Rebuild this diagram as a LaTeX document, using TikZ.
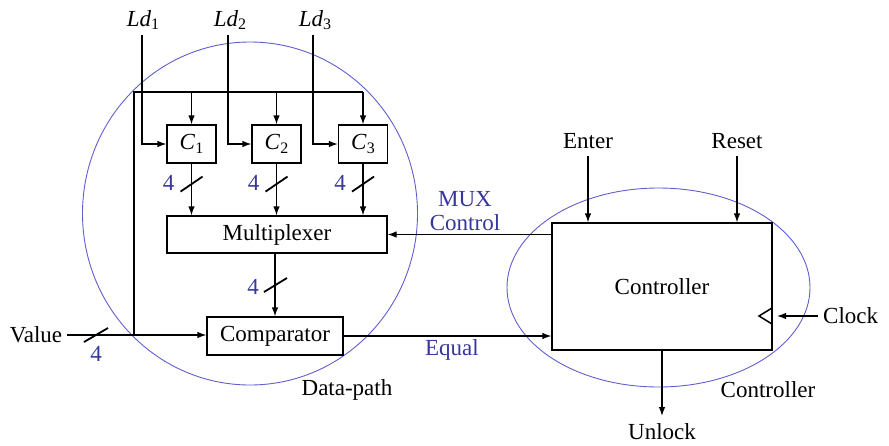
\documentclass[tikz,border=0pt]{standalone}
\usepackage{fontspec}
\setmainfont{Liberation Serif}
\usetikzlibrary{arrows.meta,calc}
\definecolor{ringblue}{RGB}{95,95,205}
\definecolor{lblblue}{RGB}{55,55,155}
\newcommand{\subs}[1]{\raisebox{-0.35ex}{\fontsize{16}{16}\selectfont #1}}
\begin{document}
\begin{tikzpicture}[x=1pt,y=-1pt,
  font=\fontsize{23}{27}\selectfont,
  wire/.style={line width=1.2pt,black},
  arr/.style={wire,-{Latex[length=9pt,width=6.5pt]}},
  box/.style={draw,line width=1.2pt,inner sep=0pt},
  ring/.style={draw=ringblue,line width=0.9pt},
  blbl/.style={text=lblblue,inner sep=0pt},
  lbl/.style={inner sep=0pt},
  slashmark/.style={line width=1.8pt}]
\useasboundingbox (0,0) rectangle (889,445);
% rings
\draw[ring] (250,213.5) ellipse [x radius=167.5pt, y radius=171.5pt];
\draw[ring] (658.5,287.5) ellipse [x radius=151.5pt, y radius=99.5pt];
% boxes
\node[box,minimum width=49pt,minimum height=38pt] (c1) at (191.5,144) {\textit{C}\subs{1}};
\node[box,minimum width=49pt,minimum height=38pt] (c2) at (276.5,144) {\textit{C}\subs{2}};
\node[box,minimum width=49pt,minimum height=38pt] (c3) at (363,144) {\textit{C}\subs{3}};
\node[box,minimum width=220pt,minimum height=37pt] (mux) at (277,234.5) {Multiplexer};
\node[box,minimum width=136pt,minimum height=38pt] (cmp) at (275,336) {Comparator};
\node[box,minimum width=220pt,minimum height=127pt] (ctrl) at (662,286.5) {};
\node[lbl] (ctrltxt) at (662,287) {Controller};
% labels
\node[lbl] (ld1) at (143,20) {\textit{Ld}\subs{1}};
\node[lbl] (ld2) at (230,20) {\textit{Ld}\subs{2}};
\node[lbl] (ld3) at (315,20) {\textit{Ld}\subs{3}};
\node[lbl] (value) at (36,335) {Value};
\node[lbl] (enter) at (588,141) {Enter};
\node[lbl] (reset) at (737,141) {Reset};
\node[lbl,anchor=west] (clock) at (823,316) {Clock};
\node[lbl] (unlock) at (662,432) {Unlock};
\node[lbl] (dplbl) at (347,390) {Data-path};
\node[lbl] (ctlbl) at (768,390) {Controller};
\node[blbl] (muxc1) at (465,199) {MUX};
\node[blbl] (muxc2) at (465,223) {Control};
\node[blbl] (equal) at (452,350) {Equal};
% Ld lines
\coordinate (ld1t) at (142,35);
\coordinate (ld2t) at (228,35);
\coordinate (ld3t) at (313,35);
\draw[arr] (ld1t) |- (c1.west);
\draw[arr] (ld2t) |- (c2.west);
\draw[arr] (ld3t) |- (c3.west);
% value bus
\coordinate (vin) at (67,335);
\coordinate (vj) at (134,335);
\coordinate (bl) at (134,92);
\coordinate (br) at (363,92);
\draw[arr] (vin) -- (vin -| cmp.west);
\draw[wire] (vj) -- (bl) -- (br);
\draw[arr] (c1.north |- bl) -- (c1.north);
\draw[arr] (c2.north |- bl) -- (c2.north);
\draw[arr] (br) -- (c3.north);
% C outputs
\foreach \c in {c1,c2,c3}{
  \draw[arr] (\c.south) -- (\c.south |- mux.north);
  \draw[slashmark] ($(\c.south)+(-11,28)$) -- ($(\c.south)+(11,13)$);
  \node[blbl] at ($(\c.south |- 0,183)+(-23,0)$) {4};
}
% mux to comparator
\coordinate (mo) at (275,253);
\draw[arr] (mo) -- (cmp.north);
\draw[slashmark] (264,292) -- (287,278);
\node[blbl] (n4m) at (253,287) {4};
% value slash
\draw[slashmark] (84,342) -- (108,328);
\node[blbl] (n4v) at (96,354) {4};
% controller connections
\draw[arr] (ctrl.west |- mux.east) -- (mux.east);
\draw[arr] (cmp.east) -- (cmp.east -| ctrl.west);
\coordinate (ent) at (588,156);
\coordinate (rst) at (737,156);
\draw[arr] (ent) -- (ent |- ctrl.north);
\draw[arr] (rst) -- (rst |- ctrl.north);
\draw[wire,line width=1.5pt] (772,308) -- (759,316) -- (772,324);
\coordinate (clk) at (818,316);
\draw[arr] (clk) -- (777,316);
\coordinate (ulk) at (662,416);
\draw[arr] (ctrl.south -| ulk) -- (ulk);
\end{tikzpicture}
\end{document}
